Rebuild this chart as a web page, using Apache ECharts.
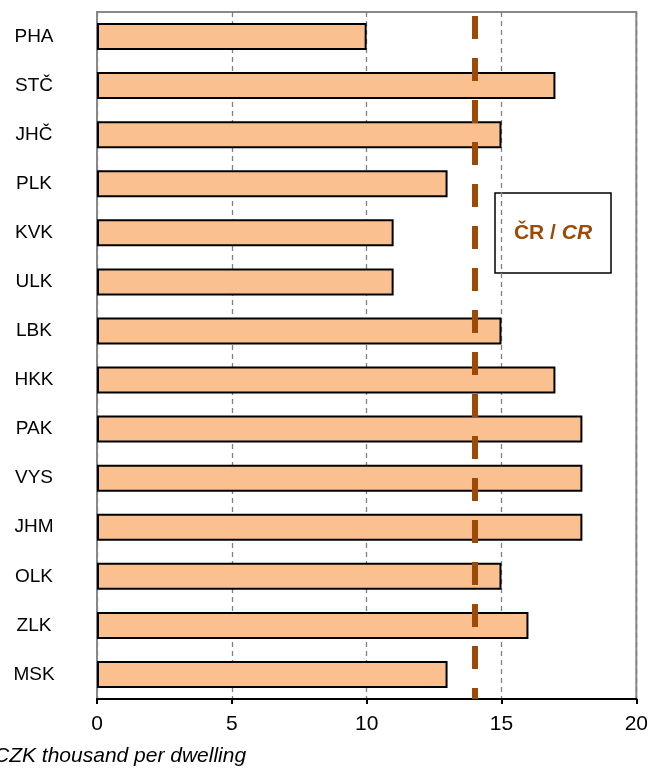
<!DOCTYPE html>
<html>
<head>
<meta charset="utf-8">
<script src="https://cdn.jsdelivr.net/npm/echarts@6/dist/echarts.min.js"></script>
<style>
  html, body { margin: 0; padding: 0; background: #fff; }
  #chart { width: 651px; height: 769px; }
</style>
</head>
<body>
<div id="chart"></div>
<script>
const regions = ['PHA', 'STČ', 'JHČ', 'PLK', 'KVK', 'ULK', 'LBK', 'HKK', 'PAK', 'VYS', 'JHM', 'OLK', 'ZLK', 'MSK'];
const values = [10, 17, 15, 13, 11, 11, 15, 17, 18, 18, 18, 15, 16, 13];
const crValue = 14;
const xTicks = [0, 5, 10, 15, 20];

const chart = echarts.init(document.getElementById('chart'));
const font = '"Liberation Sans", Arial, sans-serif';

const option = {
  animation: false,
  grid: {
    left: 97,
    right: 14,
    top: 12,
    bottom: 70,
    show: true,
    borderColor: '#888',
    borderWidth: 2
  },
  xAxis: {
    type: 'value',
    min: xTicks[0],
    max: xTicks[xTicks.length - 1],
    interval: 5,
    axisLine: { show: true, lineStyle: { color: '#000', width: 2 } },
    axisTick: { show: true, inside: false, length: 5, lineStyle: { color: '#000', width: 2 } },
    axisLabel: { color: '#000', fontSize: 21, fontFamily: font, margin: 15 },
    splitLine: { show: true, lineStyle: { color: '#808080', type: [5, 4], width: 1.3 } }
  },
  yAxis: {
    type: 'category',
    data: regions,
    inverse: true,
    axisLine: { show: true, lineStyle: { color: '#888', width: 2 } },
    axisTick: { show: false },
    axisLabel: { color: '#000', fontSize: 19, fontFamily: font, align: 'center', margin: 63 }
  },
  series: [
    {
      type: 'bar',
      data: values,
      barWidth: 27,
      itemStyle: { color: '#FAC090', borderColor: '#000', borderWidth: 2 },
      markLine: {
        silent: true,
        symbol: 'none',
        label: { show: false },
        lineStyle: { color: '#9C4A06', width: 6, type: [23, 19], dashOffset: 38 },
        data: [{ xAxis: crValue }]
      }
    }
  ],
  graphic: [
    {
      type: 'rect',
      shape: { x: 495, y: 193, width: 116, height: 80 },
      style: { fill: '#fff', stroke: '#000', lineWidth: 1.5 }
    },
    {
      type: 'text',
      x: 553,
      y: 233,
      style: {
        text: '{a|ČR / }{b|CR}',
        align: 'center',
        verticalAlign: 'middle',
        rich: {
          a: { fontSize: 21, fontWeight: 'bold', fill: '#9C4A06', fontFamily: font },
          b: { fontSize: 21, fontWeight: 'bold', fontStyle: 'italic', fill: '#9C4A06', fontFamily: font }
        }
      }
    },
    {
      type: 'text',
      x: -6,
      y: 756,
      style: {
        text: 'CZK thousand per dwelling',
        fontSize: 21,
        fontStyle: 'italic',
        fontFamily: font,
        fill: '#000',
        verticalAlign: 'middle'
      }
    }
  ]
};

chart.setOption(option);
</script>
</body>
</html>
